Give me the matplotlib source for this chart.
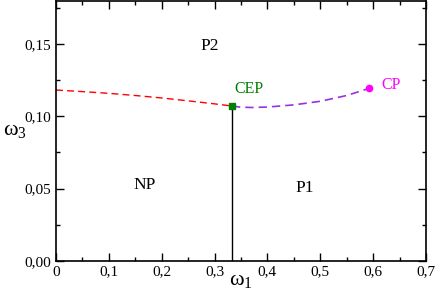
import matplotlib
matplotlib.use("Agg")
import matplotlib.pyplot as plt
from matplotlib.ticker import MultipleLocator, FuncFormatter

plt.rcParams['font.family'] = ['Liberation Serif', 'DejaVu Serif']
plt.rcParams['mathtext.fontset'] = 'custom'
plt.rcParams['mathtext.rm'] = 'Liberation Serif'
plt.rcParams['mathtext.it'] = 'Liberation Serif'

# red dashed boundary (P2 / NP)
red_x = [0.0, 0.05, 0.10, 0.15, 0.20, 0.25, 0.30, 0.333]
red_y = [0.1183, 0.1172, 0.1160, 0.1145, 0.1128, 0.1108, 0.1087, 0.1072]
# purple dashed boundary (P2 / P1)
pur_x = [0.333, 0.35, 0.37, 0.40, 0.45, 0.50, 0.55, 0.593]
pur_y = [0.1072, 0.1064, 0.1062, 0.1065, 0.1080, 0.1105, 0.1145, 0.1195]
# vertical boundary NP / P1
vert_x = [0.333, 0.333]
vert_y = [0.0, 0.1072]
cep = (0.333, 0.1072)
cp = (0.593, 0.1195)

fig = plt.figure(figsize=(4.36, 3.01), dpi=100)
ax = fig.add_axes([56/436, 1-260.7/301, 370/436, 259.7/301])

ax.plot(red_x, red_y, color='red', ls=(0, (5, 3)), lw=1)
ax.plot(pur_x, pur_y, color='#9b30e0', ls=(0, (5, 3)), lw=1.2)
ax.plot(vert_x, vert_y, color='black', lw=1)
ax.plot([cep[0]], [cep[1]], 's', color='green', ms=4)
ax.plot([cp[0]], [cp[1]], 'o', color='magenta', ms=4.5)

ax.text(0.338, 0.1135, 'CEP', color='green', fontsize=11.5, ha='left', va='bottom')
ax.text(0.615, 0.122, 'CP', color='magenta', fontsize=11.5, ha='left', va='center')
ax.text(0.29, 0.149, 'P2', fontsize=12.5, ha='center', va='center')
ax.text(0.168, 0.0525, 'NP', fontsize=12.5, ha='center', va='center')
ax.text(0.47, 0.0505, 'P1', fontsize=12.5, ha='center', va='center')

ax.set_xlim(0, 0.7)
ax.set_ylim(0, 0.18)
ax.xaxis.set_major_locator(MultipleLocator(0.1))
ax.xaxis.set_minor_locator(MultipleLocator(0.05))
ax.yaxis.set_major_locator(MultipleLocator(0.05))
ax.yaxis.set_minor_locator(MultipleLocator(0.025))

def fx(v, p):
    s = '%.1f' % v
    if abs(v) < 1e-9:
        return '0'
    return s.replace('.', ',')

def fy(v, p):
    return ('%.2f' % v).replace('.', ',')

ax.xaxis.set_major_formatter(FuncFormatter(fx))
ax.yaxis.set_major_formatter(FuncFormatter(fy))
ax.tick_params(which='both', direction='in', top=True, right=True, labelsize=11)
ax.tick_params(which='major', length=6, width=1)
ax.tick_params(which='minor', length=3, width=1)
for s in ax.spines.values():
    s.set_linewidth(1.2)

ax.set_xlabel(r'$\omega_1$', fontsize=16, va='top')
ax.xaxis.set_label_coords(0.5, -0.04)
ax.set_ylabel(r'$\omega_3$', fontsize=16, rotation=0, ha='center', va='center')
ax.yaxis.set_label_coords(-0.11, 0.50)

fig.savefig('out.png', dpi=100)
